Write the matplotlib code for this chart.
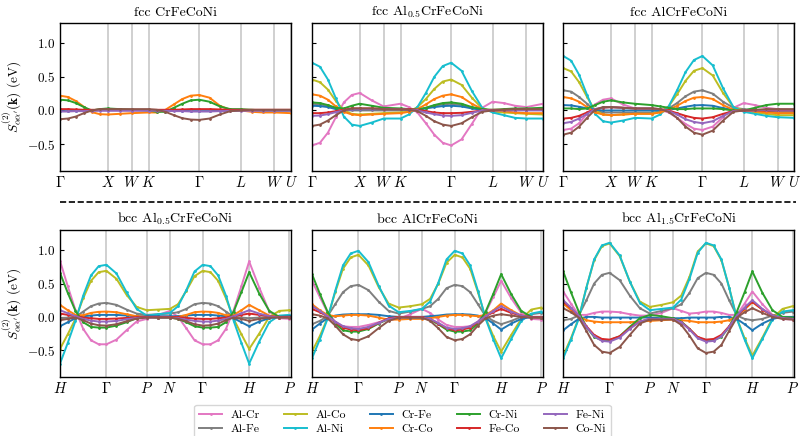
import numpy as np
import matplotlib
matplotlib.use('Agg')
import matplotlib.pyplot as plt
from matplotlib.lines import Line2D

plt.rcParams.update({
    'font.family': 'serif',
    'font.serif': ['cmr10'],
    'mathtext.fontset': 'cm',
    'axes.unicode_minus': False,
    'axes.formatter.use_mathtext': True,
})

# ---- k-path geometry (segment lengths in 2pi/a, samples per segment) ----
fcc_seg_len = [1.0, 0.5, 0.3536, 1.0607, 0.8660, 0.7071, 0.3536]
fcc_seg_n = [6, 2, 1, 6, 4, 3, 1]
fcc_labels = [r'$\Gamma$', r'$X$', r'$W$', r'$K$', r'$\Gamma$', r'$L$', r'$W$', r'$U$']
bcc_seg_len = [1.0, 0.8660, 0.5, 0.7071, 1.0, 0.8660]
bcc_seg_n = [6, 4, 2, 4, 6, 4]
bcc_labels = [r'$H$', r'$\Gamma$', r'$P$', r'$N$', r'$\Gamma$', r'$H$', r'$P$']

pairs = ['Al-Cr', 'Al-Fe', 'Al-Co', 'Al-Ni', 'Cr-Fe', 'Cr-Co', 'Cr-Ni', 'Fe-Co', 'Fe-Ni', 'Co-Ni']
pair_colors = ['#e377c2', '#7f7f7f', '#bcbd22', '#17becf', '#1f77b4',
               '#ff7f0e', '#2ca02c', '#d62728', '#9467bd', '#8c564b']

# ---- data: S^(2) (eV) along the path ----
fcc_CrFeCoNi = {
    'Cr-Fe': [-.01, -.01, -.005, .0, .0, .005, .005, .005, .005, .005, .0, .0, .0, -.005, -.01, -.01, -.01, -.005, .0, .0, .0, .0, .0, .0],
    'Cr-Co': [.22, .20, .14, .055, -.025, -.055, -.06, -.05, -.04, -.03, -.03, .01, .09, .17, .22, .23, .19, .07, .01, .0, -.02, -.03, -.03, -.04],
    'Cr-Ni': [.16, .15, .11, .05, .0, .02, .03, .02, .01, .0, -.02, -.02, .04, .10, .15, .16, .13, .06, .02, .02, .01, .0, .0, .0],
    'Fe-Co': [.02, .02, .015, .01, .01, .01, .01, .01, .01, .01, .01, .01, .01, .015, .02, .02, .02, .015, .01, .01, .01, .01, .01, .01],
    'Fe-Ni': [-.015, -.015, -.01, -.01, -.005, -.005, -.005, -.005, -.005, -.005, -.005, -.005, -.01, -.01, -.015, -.015, -.015, -.01, -.005, -.005, -.005, -.005, -.005, -.005],
    'Co-Ni': [-.13, -.12, -.09, -.04, .0, .02, .02, .02, .02, .02, .01, -.02, -.07, -.115, -.135, -.14, -.12, -.06, -.01, .0, .01, .01, .01, .01],
}
fcc_Al05 = {
    'Al-Cr': [-.52, -.48, -.33, -.10, .12, .23, .26, .15, .06, .10, .05, -.03, -.19, -.36, -.48, -.52, -.43, -.20, .04, .13, .11, .07, .05, .10],
    'Al-Fe': [.10, .09, .07, .03, .0, .0, .0, .0, .0, .0, .0, .01, .04, .07, .09, .10, .08, .04, .01, .0, .0, .01, .01, .01],
    'Al-Co': [.46, .42, .31, .14, .0, -.05, -.06, -.05, -.04, -.03, -.02, .05, .17, .32, .43, .46, .38, .19, .03, -.02, -.03, -.04, -.05, -.06],
    'Al-Ni': [.71, .65, .46, .18, -.09, -.21, -.23, -.18, -.12, -.12, -.06, .05, .26, .50, .66, .71, .59, .29, .04, -.03, -.07, -.11, -.12, -.12],
    'Cr-Fe': [.07, .065, .05, .02, .01, .015, .02, .02, .02, .02, .01, .01, .03, .05, .065, .07, .06, .03, .01, .0, .01, .01, .01, .01],
    'Cr-Co': [.24, .22, .16, .06, -.02, -.06, -.07, -.06, -.05, -.04, -.02, .02, .09, .17, .22, .24, .20, .10, .02, .0, -.01, -.03, -.04, -.04],
    'Cr-Ni': [.12, .11, .08, .04, .03, .07, .10, .07, .04, .03, .02, .01, .04, .08, .11, .12, .10, .05, .02, .01, .02, .03, .03, .04],
    'Fe-Co': [-.04, -.04, -.03, -.01, .01, .03, .03, .03, .02, .02, .02, .01, -.01, -.03, -.04, -.04, -.035, -.02, .0, .01, .01, .01, .01, .01],
    'Fe-Ni': [-.08, -.075, -.055, -.025, .0, .015, .02, .02, .02, .02, .01, .0, -.03, -.055, -.075, -.08, -.07, -.035, .0, .0, .0, .0, .0, .0],
    'Co-Ni': [-.23, -.21, -.15, -.07, .0, .03, .03, .03, .02, .02, .01, -.01, -.08, -.16, -.21, -.23, -.19, -.10, -.02, .0, .01, .02, .02, .02],
}
fcc_Al10 = {
    'Al-Cr': [-.29, -.27, -.19, -.05, .09, .16, .18, .09, .03, .02, .01, -.03, -.11, -.20, -.27, -.29, -.24, -.10, .04, .11, .08, .04, .02, .01],
    'Al-Fe': [.30, .28, .20, .10, .0, -.03, -.03, -.03, -.03, -.03, -.02, .03, .11, .21, .28, .30, .25, .13, .04, .02, .0, -.02, -.03, -.03],
    'Al-Co': [.63, .58, .42, .20, .0, -.06, -.07, -.06, -.05, -.05, -.02, .06, .24, .44, .59, .63, .52, .26, .05, .0, -.03, -.05, -.07, -.07],
    'Al-Ni': [.81, .74, .53, .23, -.05, -.16, -.18, -.15, -.11, -.12, -.06, .06, .30, .57, .75, .81, .67, .33, .05, -.02, -.05, -.08, -.10, -.11],
    'Cr-Fe': [.08, .075, .055, .03, .01, .0, .0, .0, .0, .0, .0, .01, .03, .055, .075, .08, .07, .035, .01, .0, .0, .0, .0, .0],
    'Cr-Co': [.20, .18, .13, .05, -.03, -.06, -.07, -.06, -.05, -.05, -.03, .01, .07, .14, .19, .20, .17, .08, .01, .0, -.01, -.03, -.04, -.04],
    'Cr-Ni': [.03, .03, .02, .03, .08, .13, .15, .12, .10, .08, .06, .04, .02, .02, .03, .03, .03, .02, .0, .0, .04, .08, .10, .10],
    'Fe-Co': [-.12, -.11, -.08, -.03, .02, .04, .05, .04, .03, .03, .02, .0, -.04, -.08, -.11, -.12, -.10, -.05, -.01, .0, .0, .0, .0, .0],
    'Fe-Ni': [-.19, -.17, -.12, -.05, .02, .045, .05, .04, .03, .03, .02, -.01, -.06, -.13, -.17, -.19, -.16, -.08, -.01, .0, .0, .01, .01, .01],
    'Co-Ni': [-.36, -.33, -.24, -.11, .01, .05, .05, .04, .03, .03, .02, -.02, -.11, -.24, -.33, -.36, -.30, -.15, -.02, .0, .01, .02, .02, .02],
}
bcc_Al05 = {
    'Al-Cr': [.84, .46, .10, -.18, -.35, -.41, -.41, -.34, -.20, -.07, -.03, .03, .09, .0, -.17, -.35, -.41, -.41, -.35, -.18, .10, .46, .83, .44, .08, -.02, -.03],
    'Al-Fe': [-.02, -.01, .0, .08, .16, .20, .21, .18, .11, .05, .03, .04, .05, .07, .12, .19, .21, .20, .16, .08, .0, -.01, -.02, -.01, .0, .01, .02],
    'Al-Co': [-.48, -.26, -.03, .28, .54, .67, .69, .57, .33, .15, .10, .11, .12, .19, .39, .61, .69, .67, .54, .28, -.03, -.26, -.48, -.25, .0, .09, .10],
    'Al-Ni': [-.70, -.39, -.06, .32, .62, .76, .78, .65, .37, .12, .02, .04, .06, .16, .40, .68, .78, .76, .62, .32, -.06, -.39, -.70, -.37, -.08, .02, .03],
    'Cr-Fe': [-.14, -.08, -.02, .01, .02, .03, .03, .03, .02, .01, .01, .01, .01, .01, .02, .03, .03, .03, .02, .01, -.02, -.08, -.14, -.07, -.02, .0, .01],
    'Cr-Co': [.18, .10, .03, .025, .06, .076, .08, .07, .04, .01, .0, -.01, -.01, .0, .03, .07, .08, .076, .06, .025, .03, .10, .18, .10, .02, -.01, -.01],
    'Cr-Ni': [.66, .36, .09, -.08, -.15, -.16, -.16, -.13, -.08, -.02, .0, -.01, -.01, -.03, -.08, -.14, -.16, -.16, -.15, -.08, .08, .37, .67, .35, .09, .0, .0],
    'Fe-Co': [.05, .03, .01, -.01, -.02, -.03, -.03, -.025, -.015, -.005, .0, .0, .0, -.005, -.015, -.025, -.03, -.03, -.02, -.01, .01, .03, .05, .03, .01, .0, .0],
    'Fe-Ni': [.10, .055, .01, -.03, -.055, -.07, -.07, -.06, -.035, -.015, -.01, -.01, -.01, -.02, -.04, -.06, -.07, -.07, -.055, -.03, .01, .055, .10, .05, .01, -.01, -.01],
    'Co-Ni': [-.05, -.03, -.01, -.05, -.10, -.125, -.13, -.11, -.065, -.025, -.01, -.01, -.01, -.03, -.065, -.11, -.13, -.125, -.10, -.05, -.01, -.03, -.06, -.03, -.01, -.01, -.01],
}
bcc_Al10 = {
    'Al-Cr': [.54, .30, .07, -.07, -.14, -.15, -.15, -.12, -.08, -.04, -.03, .04, .12, .06, -.04, -.12, -.15, -.15, -.14, -.07, .07, .30, .54, .28, .06, -.03, -.04],
    'Al-Fe': [-.11, -.06, .01, .19, .37, .46, .48, .40, .23, .09, .05, .08, .12, .16, .27, .43, .48, .46, .37, .19, .01, -.06, -.11, -.06, .0, .04, .06],
    'Al-Co': [-.52, -.29, -.02, .37, .72, .89, .93, .77, .45, .20, .14, .16, .19, .27, .50, .81, .93, .89, .72, .37, -.02, -.29, -.52, -.27, -.03, .11, .14],
    'Al-Ni': [-.62, -.34, -.03, .39, .77, .95, .99, .82, .47, .17, .07, .09, .12, .23, .51, .86, .99, .95, .77, .39, -.03, -.34, -.62, -.33, -.06, .05, .08],
    'Cr-Fe': [-.19, -.10, -.02, .02, .035, .04, .04, .04, .03, .01, .0, .0, .0, .01, .02, .035, .04, .04, .035, .02, -.02, -.10, -.19, -.10, -.03, .0, .0],
    'Cr-Co': [.19, .10, .03, .01, .02, .03, .03, .02, -.01, -.04, -.04, -.03, -.03, -.02, .0, .02, .03, .03, .02, .01, .03, .10, .20, .10, .02, -.01, -.02],
    'Cr-Ni': [.64, .35, .08, -.10, -.20, -.22, -.22, -.18, -.10, -.03, .0, -.01, -.01, -.04, -.11, -.19, -.22, -.22, -.20, -.10, .08, .35, .64, .34, .09, .0, -.01],
    'Fe-Co': [.12, .07, .01, -.08, -.16, -.19, -.20, -.17, -.09, -.02, .0, .0, .0, -.03, -.10, -.17, -.20, -.19, -.16, -.08, .01, .07, .12, .06, .02, .0, .0],
    'Fe-Ni': [.16, .09, .01, -.07, -.14, -.17, -.18, -.15, -.09, -.03, -.01, -.01, -.01, -.03, -.09, -.16, -.18, -.17, -.14, -.07, .01, .09, .16, .08, .02, -.01, -.01],
    'Co-Ni': [.04, .02, -.02, -.13, -.26, -.33, -.35, -.29, -.17, -.06, -.01, -.01, -.01, -.06, -.17, -.30, -.35, -.33, -.26, -.13, -.02, .02, .04, .02, .0, -.01, -.01],
}
bcc_Al15 = {
    'Al-Cr': [.38, .20, .03, .03, .06, .08, .08, .07, .04, .02, .02, .06, .13, .09, .05, .06, .08, .08, .06, .03, .03, .20, .38, .19, .03, -.03, -.04],
    'Al-Fe': [-.05, -.03, .02, .25, .50, .63, .66, .55, .32, .13, .05, .09, .13, .19, .36, .58, .66, .63, .50, .25, .02, -.03, -.05, -.03, .02, .06, .08],
    'Al-Co': [-.58, -.32, -.02, .44, .85, 1.06, 1.10, .91, .53, .23, .15, .18, .22, .32, .60, .98, 1.10, 1.06, .85, .44, -.02, -.32, -.58, -.31, -.02, .12, .16],
    'Al-Ni': [-.62, -.34, -.03, .44, .86, 1.07, 1.11, .92, .53, .21, .10, .12, .14, .26, .57, .96, 1.11, 1.07, .86, .44, -.03, -.34, -.62, -.33, -.04, .08, .10],
    'Cr-Fe': [-.20, -.11, -.03, .0, .0, -.01, -.01, -.01, -.01, -.01, -.01, -.02, -.02, -.02, -.01, -.01, -.01, -.01, .0, .0, -.03, -.11, -.20, -.10, -.03, .0, .0],
    'Cr-Co': [.20, .10, .01, -.05, -.07, -.08, -.08, -.08, -.08, -.07, -.06, -.05, -.04, -.05, -.06, -.08, -.08, -.08, -.07, -.05, .01, .11, .22, .11, .02, -.02, -.03],
    'Cr-Ni': [.68, .37, .08, -.15, -.30, -.35, -.35, -.29, -.15, -.02, .03, .01, -.02, -.07, -.18, -.31, -.35, -.35, -.30, -.15, .08, .37, .68, .36, .10, .0, -.01],
    'Fe-Co': [.23, .13, .01, -.14, -.27, -.33, -.34, -.29, -.17, -.07, -.03, -.03, -.03, -.08, -.18, -.30, -.34, -.33, -.27, -.14, .01, .13, .23, .11, .02, -.02, -.03],
    'Fe-Ni': [.25, .14, .02, -.15, -.29, -.36, -.37, -.31, -.18, -.07, -.03, -.03, -.03, -.08, -.19, -.32, -.37, -.36, -.29, -.15, .02, .14, .25, .12, .02, -.02, -.03],
    'Co-Ni': [.13, .07, -.01, -.21, -.42, -.52, -.54, -.45, -.27, -.10, -.04, -.04, -.04, -.12, -.28, -.47, -.54, -.52, -.42, -.21, -.01, .07, .13, .06, .0, -.03, -.04],
}

panel_titles = ['fcc CrFeCoNi', r'fcc Al$_{0.5}$CrFeCoNi', 'fcc AlCrFeCoNi',
                r'bcc Al$_{0.5}$CrFeCoNi', 'bcc AlCrFeCoNi', r'bcc Al$_{1.5}$CrFeCoNi']
panel_data = [fcc_CrFeCoNi, fcc_Al05, fcc_Al10, bcc_Al05, bcc_Al10, bcc_Al15]
panel_lattice = ['fcc', 'fcc', 'fcc', 'bcc', 'bcc', 'bcc']


def build_path(seg_len, seg_n):
    xs = [0.0]
    ticks = [0.0]
    start = 0.0
    for L, n in zip(seg_len, seg_n):
        pts = np.linspace(start, start + L, n + 1)[1:]
        xs.extend(pts.tolist())
        start += L
        ticks.append(start)
    return np.array(xs), ticks


fig = plt.figure(figsize=(8.0, 4.36), dpi=100)
lefts = [0.075, 0.39, 0.704]
w = 0.289
rows = [(0.6078, 0.3394), (0.1353, 0.337)]

handles = {}
for i, (title, data, lat) in enumerate(zip(panel_titles, panel_data, panel_lattice)):
    r, c = divmod(i, 3)
    ax = fig.add_axes([lefts[c], rows[r][0], w, rows[r][1]])
    if lat == 'fcc':
        x, ticks = build_path(fcc_seg_len, fcc_seg_n)
        labels = fcc_labels
        xmax = ticks[-1]
    else:
        x, ticks = build_path(bcc_seg_len, bcc_seg_n)
        labels = bcc_labels
        xmax = ticks[-1] * 1.008
    for t in ticks:
        ax.axvline(t, color='#c8c8c8', lw=1.2, zorder=0)
    for name, col in zip(pairs, pair_colors):
        if name not in data:
            continue
        ln, = ax.plot(x, data[name], color=col, lw=1.4, marker='.', ms=2.0, label=name)
        handles[name] = ln
    ax.set_xlim(0, xmax)
    ax.set_ylim(-0.9, 1.3)
    ax.set_xticks(ticks)
    ax.set_xticklabels(labels, fontsize=10.5)
    ax.set_yticks([-0.5, 0.0, 0.5, 1.0])
    if c == 0:
        ax.set_yticklabels([r'$-0.5$', r'$0.0$', r'$0.5$', r'$1.0$'], fontsize=9.5)
        ax.set_ylabel(r'$S^{(2)}_{\alpha\alpha^{\prime}}(\mathbf{k})$ (eV)', fontsize=9.5, labelpad=2)
    else:
        ax.set_yticklabels([])
    ax.tick_params(axis='x', length=0, pad=3)
    ax.tick_params(axis='y', direction='in', length=3)
    ax.set_title(title, fontsize=10, pad=5)
    for s in ax.spines.values():
        s.set_linewidth(1.0)

fig.add_artist(Line2D([0.075, 0.995], [0.537, 0.537], transform=fig.transFigure,
                      color='k', ls='--', lw=1.2))

fig.legend([handles[p] for p in pairs], pairs, loc='lower center', ncol=5,
           bbox_to_anchor=(0.503, -0.02), fontsize=8.5, frameon=True,
           handlelength=2.0, columnspacing=2.0, handletextpad=0.7,
           borderpad=0.4, labelspacing=0.35, edgecolor='#cccccc', fancybox=True)

fig.savefig('out.png', dpi=100)
